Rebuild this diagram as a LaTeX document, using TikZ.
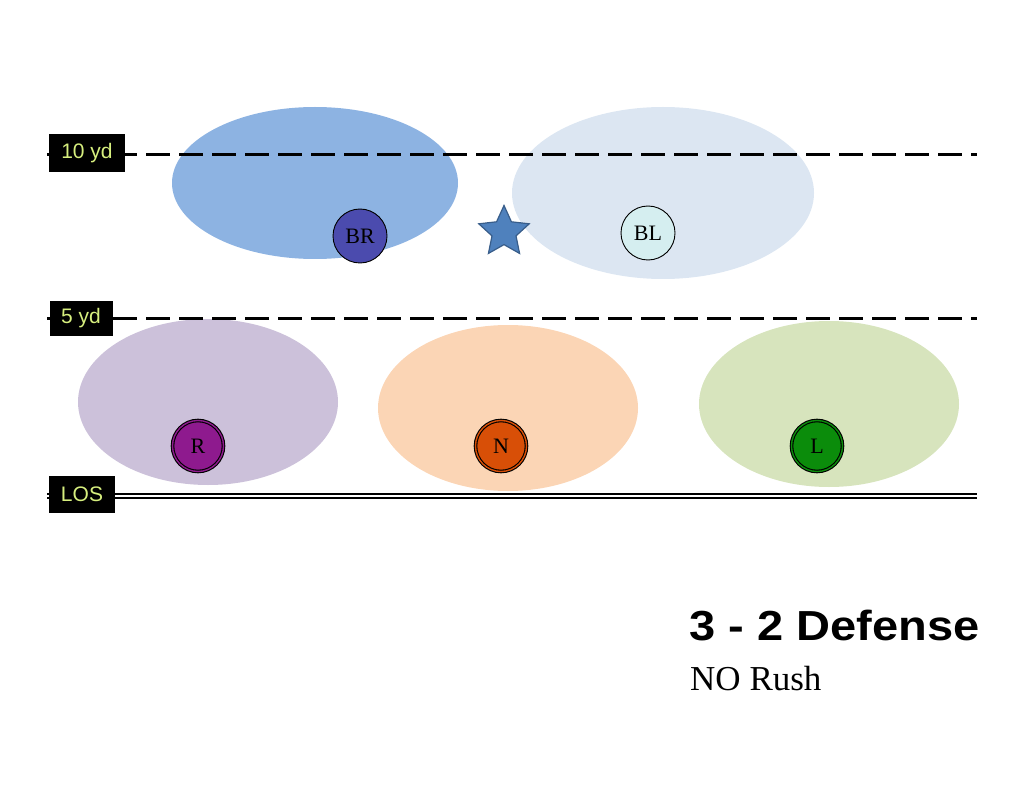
\documentclass[tikz,border=0pt]{standalone}
\usepackage{fontspec}
\usepackage{graphicx}
\setmainfont{Liberation Serif}
\setsansfont{Liberation Sans}
\usetikzlibrary{shapes.geometric}
\definecolor{zoneBR}{HTML}{8DB3E2}
\definecolor{zoneBL}{HTML}{DCE6F2}
\definecolor{zoneR}{HTML}{CCC1DA}
\definecolor{zoneN}{HTML}{FBD5B5}
\definecolor{zoneL}{HTML}{D7E4BD}
\definecolor{plBR}{HTML}{4B4BAE}
\definecolor{plBL}{HTML}{D5EEF0}
\definecolor{plR}{HTML}{8E1A8E}
\definecolor{plN}{HTML}{D84F07}
\definecolor{plL}{HTML}{0B8C0B}
\definecolor{starfill}{HTML}{4F81BD}
\definecolor{stardraw}{HTML}{385D8A}
\definecolor{labtext}{HTML}{D6EE7E}
\tikzset{
  zone/.style={ellipse, draw=none, inner sep=0pt},
  player/.style={circle, draw=black, line width=0.9pt, minimum size=54pt, inner sep=0pt,
    font=\fontsize{22}{22}\selectfont},
  dplayer/.style={player, fill=#1, double=#1, draw=black, line width=1.1pt, double distance=1.4pt, minimum size=51pt},
  yardline/.style={line width=3pt, dash pattern=on 24pt off 9pt},
  yardlab/.style={fill=black, text=labtext, inner sep=0pt, font=\sffamily\fontsize{21}{21}\selectfont}
}
\begin{document}
\begin{tikzpicture}[x=1pt,y=-1pt]
\useasboundingbox (0,0) rectangle (1024,791);
% zones
\node[zone, fill=zoneBR, minimum width=286pt, minimum height=152pt] (zBR) at (315,183) {};
\node[zone, fill=zoneBL, minimum width=302pt, minimum height=172pt] (zBL) at (663,193) {};
\node[zone, fill=zoneR, minimum width=260pt, minimum height=166pt] (zR) at (208,402) {};
\node[zone, fill=zoneN, minimum width=260pt, minimum height=166pt] (zN) at (508,408) {};
\node[zone, fill=zoneL, minimum width=260pt, minimum height=166pt] (zL) at (829,404) {};
% yard lines
\coordinate (t1) at (47,155); \coordinate (t2) at (977,155);
\coordinate (f1) at (47,318); \coordinate (f2) at (977,318);
\coordinate (l1) at (47,496); \coordinate (l2) at (977,496);
\draw[yardline] (t1) -- (t2);
\draw[yardline] (f1) -- (f2);
\draw[double=white, double distance=2pt, line width=2.2pt] (l1) -- (l2);
% labels
\node[yardlab, minimum width=76pt, minimum height=38pt] (lab10) at (87,153) {10 yd};
\node[yardlab, minimum width=63pt, minimum height=35pt] (lab5) at (81,318.5) {5 yd};
\node[yardlab, minimum width=66pt, minimum height=37pt] (labLOS) at (82,494.5) {LOS};
% players
\node[player, fill=plBR] (BR) at (360,236) {BR};
\node[player, fill=plBL] (BL) at (648,233) {BL};
\node[dplayer=plR] (R) at (198,446) {R};
\node[dplayer=plN] (N) at (501,446) {N};
\node[dplayer=plL] (L) at (817,446) {L};
% star
\node[star, star points=5, star point ratio=2.1, minimum size=53pt, inner sep=0pt,
  fill=starfill, draw=stardraw, line width=1.2pt] (ball) at (504,232) {};
% title
\node[anchor=base west, inner sep=0pt, font=\sffamily\bfseries\fontsize{42}{42}\selectfont] (title) at (689,640) {\scalebox{1.12}[1]{3 - 2 Defense}};
\node[anchor=base west, inner sep=0pt, font=\fontsize{35}{35}\selectfont] (sub) at (690,690) {NO Rush};
\end{tikzpicture}
\end{document}
